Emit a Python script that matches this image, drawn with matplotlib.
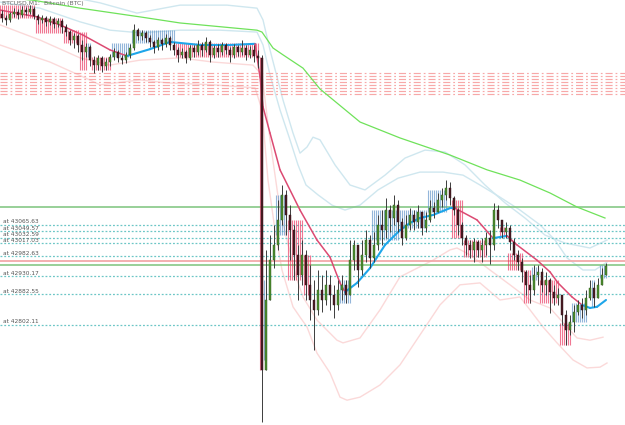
import matplotlib
matplotlib.use("Agg")
import matplotlib.pyplot as plt
import numpy as np

# M1 bars (price), open of each bar = close of the bar before
first_open = 43622
closes = [
    43611, 43606, 43622, 43627, 43619, 43632, 43627, 43635, 43616, 43606,
    43611, 43601, 43608, 43595, 43603, 43587, 43574, 43553, 43564, 43540,
    43522, 43535, 43500, 43487, 43506, 43485, 43495, 43508, 43522, 43506,
    43500, 43514, 43532, 43579, 43564, 43572, 43558, 43548, 43535, 43553,
    43543, 43558, 43540, 43527, 43514, 43522, 43506, 43532, 43522, 43540,
    43527, 43548, 43514, 43532, 43522, 43540, 43527, 43514, 43535, 43522,
    43532, 43514, 43527, 43511, 43506, 42684, 42868, 42973, 43013, 43079,
    43145, 43092, 43052, 42987, 42934, 42987, 42908, 42868, 42842, 42894,
    42868, 42908, 42881, 42855, 42894, 42908, 42881, 42973, 43013, 42947,
    42987, 43026, 42979, 43013, 43066, 43052, 43105, 43084, 43118, 43074,
    43031, 43066, 43092, 43074, 43100, 43058, 43079, 43110, 43100, 43132,
    43145, 43163, 43137, 43105, 43066, 43031, 43013, 43000, 43021, 43000,
    43013, 43031, 43013, 43105, 43079, 43047, 43058, 43021, 42987, 42968,
    42942, 42908, 42894, 42934, 42942, 42908, 42921, 42889, 42873, 42881,
    42828, 42789, 42810, 42836, 42855, 42842, 42873, 42900, 42873, 42908,
    42934, 42958]
highs = [
    43632, 43619, 43627, 43637, 43635, 43643, 43640, 43645, 43640, 43622,
    43619, 43616, 43616, 43614, 43611, 43608, 43595, 43579, 43572, 43569,
    43553, 43545, 43540, 43511, 43514, 43511, 43506, 43516, 43532, 43527,
    43514, 43522, 43543, 43595, 43585, 43579, 43577, 43566, 43553, 43561,
    43558, 43569, 43564, 43548, 43535, 43532, 43527, 43540, 43540, 43553,
    43548, 43561, 43553, 43540, 43543, 43548, 43545, 43535, 43543, 43540,
    43553, 43540, 43537, 43540, 43527, 43514, 43000, 43039, 43066, 43132,
    43171, 43158, 43118, 43066, 43013, 43026, 43000, 42960, 42921, 42947,
    42934, 42947, 42934, 42908, 42921, 42934, 42921, 43026, 43026, 43000,
    43026, 43052, 43039, 43047, 43092, 43105, 43137, 43118, 43145, 43132,
    43084, 43092, 43110, 43105, 43118, 43092, 43100, 43132, 43126, 43150,
    43163, 43184, 43179, 43142, 43110, 43074, 43039, 43026, 43031, 43026,
    43031, 43047, 43052, 43124, 43118, 43079, 43074, 43066, 43031, 43000,
    42979, 42947, 42934, 42960, 42960, 42952, 42942, 42926, 42908, 42900,
    42881, 42842, 42828, 42855, 42868, 42873, 42894, 42921, 42915, 42926,
    42952, 42965]
lows = [
    43601, 43593, 43601, 43614, 43608, 43614, 43619, 43622, 43608, 43595,
    43598, 43590, 43593, 43585, 43587, 43572, 43564, 43540, 43532, 43522,
    43500, 43508, 43485, 43466, 43474, 43469, 43474, 43485, 43500, 43495,
    43490, 43493, 43506, 43527, 43553, 43553, 43548, 43535, 43519, 43527,
    43527, 43535, 43527, 43514, 43495, 43506, 43493, 43500, 43508, 43514,
    43511, 43522, 43495, 43506, 43508, 43514, 43516, 43495, 43506, 43511,
    43514, 43500, 43506, 43495, 43479, 42547, 42710, 42868, 42952, 43000,
    43066, 43039, 42973, 42921, 42868, 42908, 42868, 42815, 42736, 42828,
    42836, 42855, 42842, 42821, 42842, 42868, 42860, 42881, 42947, 42902,
    42934, 42968, 42952, 42968, 43000, 43013, 43031, 43047, 43066, 43047,
    43013, 43026, 43052, 43052, 43058, 43039, 43047, 43074, 43084, 43100,
    43113, 43132, 43118, 43092, 43039, 43013, 42987, 42979, 42968, 42981,
    42968, 42987, 42963, 43000, 43058, 43031, 43031, 43000, 42973, 42947,
    42915, 42881, 42860, 42881, 42908, 42889, 42881, 42834, 42855, 42855,
    42802, 42749, 42776, 42784, 42828, 42821, 42828, 42868, 42850, 42886,
    42915, 42934]

# trend boxes: first bar, last bar, top, bottom, up(1)/down(0)
hl_from = [0, 9, 16, 20, 22, 23, 28, 33, 44, 65, 66, 69, 72, 76, 85, 93, 100, 107,
           113, 116, 125, 127, 131, 133, 135, 140, 143, 148, 150]
hl_to = [8, 15, 19, 21, 22, 27, 32, 43, 64, 65, 66, 71, 75, 77, 87, 99, 106, 111,
         115, 121, 126, 130, 132, 134, 139, 142, 146, 148, 151]
hl_top = [43645, 43611, 43579, 43574, 43545, 43508, 43545, 43579, 43545, 43508,
          42921, 43145, 43079, 42987, 42921, 43105, 43105, 43158, 43132, 43026,
          43060, 42992, 42947, 42955, 42921, 42808, 42860, 42921, 42960]
hl_bot = [43611, 43572, 43545, 43474, 43508, 43474, 43508, 43545, 43508, 42684,
          42710, 43039, 42921, 42881, 42860, 43026, 43058, 43100, 43031, 42981,
          43034, 42947, 42860, 42921, 42860, 42749, 42810, 42850, 42926]
hl_up = [0, 0, 0, 0, 1, 0, 1, 1, 0, 0, 1, 1, 0, 0, 1, 1, 1, 1, 0, 0, 0, 0, 0, 1, 0, 0, 1, 1, 1]

# trend moving average (x in bars)
ma_x = [-0.5, 8.75, 14.5, 20.25, 27, 31.25, 37, 42, 49.5, 57, 63.25, 64.5, 65.25, 67,
        69.5, 74.5, 78.75, 82, 84.5, 85.75, 88.75, 92, 95.75, 99.5, 102, 104.5, 107.75,
        112, 113.25, 118.75, 122.75, 126.25, 128.75, 133.75, 137, 139, 142.5, 145, 147,
        148.75, 151]
ma_p = [43632, 43614, 43593, 43566, 43527, 43511, 43529, 43548, 43540, 43540, 43543,
        43456, 43377, 43308, 43211, 43105, 43026, 42981, 42913, 42889, 42913, 42952,
        43013, 43052, 43071, 43084, 43092, 43110, 43110, 43079, 43031, 43037, 43013,
        42973, 42942, 42913, 42876, 42855, 42847, 42850, 42868]
ma_up = [0, 0, 0, 0, 0, 1, 1, 1, 1, 1, 0, 0, 0, 0, 0, 0, 0, 0, 0, 1, 1, 1, 1, 1, 1, 1,
         1, 1, 0, 0, 1, 0, 0, 0, 0, 0, 0, 1, 1, 1]

# slow moving average
slow_x = [-0.5, 7.75, 19.5, 34.5, 44.5, 63.75, 65, 67.75, 70.25, 75.25, 79.5, 89.5,
          99.5, 112, 121.25, 129.5, 137, 143.75, 150.75]
slow_p = [43666, 43658, 43637, 43614, 43598, 43579, 43574, 43532, 43514, 43479, 43424,
          43337, 43295, 43250, 43211, 43184, 43150, 43113, 43084]

# channel bands
up_out_x = [14.5, 24.5, 33.75, 44.5, 56.25, 63.75, 65.25, 67, 70.25, 72.75, 74.5, 76.25,
            77.75, 79.5, 83.25, 87, 90.75, 95.75, 100.75, 105.75, 110.75, 115.75, 120.75,
            125.75, 130.75, 135.75, 140.75, 147, 151.25]
up_out_p = [43672, 43651, 43624, 43645, 43645, 43637, 43606, 43527, 43395, 43308, 43255,
            43271, 43297, 43290, 43224, 43171, 43158, 43197, 43242, 43263, 43258, 43224,
            43171, 43124, 43084, 43039, 43018, 43005, 43026]
up_in_x = [-0.5, 9.5, 19.5, 27, 34.5, 44.5, 54.5, 63.75, 65.25, 67, 69.5, 72, 74, 76, 79,
           82.5, 85.75, 89.5, 94, 99, 104.5, 110.25, 115.25, 119.5, 124.5, 129.5, 134.5,
           138.25, 141.25, 145.25, 148.25, 151.25]
up_in_p = [43653, 43637, 43601, 43579, 43572, 43579, 43579, 43574, 43540, 43461, 43369,
           43290, 43224, 43171, 43145, 43118, 43105, 43118, 43158, 43189, 43205, 43205,
           43197, 43171, 43139, 43105, 43066, 43026, 42979, 42947, 42947, 42968]
lo_in_x = [-0.5, 9.5, 19.5, 27, 34.5, 44.5, 52.75, 62.75, 65, 67, 69.5, 71.25, 73.75,
           75.25, 78.75, 83.75, 85.25, 89.5, 94.5, 99.5, 107.75, 112, 113.75, 117, 122,
           127, 132, 137, 141.25, 143.75, 147, 150.25]
lo_in_p = [43593, 43553, 43506, 43487, 43500, 43506, 43495, 43487, 43461, 43290, 43105,
           43026, 42921, 42876, 42815, 42762, 42755, 42768, 42842, 42929, 42973, 43000,
           43005, 42987, 42947, 42908, 42868, 42847, 42797, 42768, 42762, 42770]
lo_out_x = [-0.5, 12, 20.25, 24.5, 34.5, 41.25, 52.75, 63.25, 65, 66.5, 68.25, 70, 72.75,
            74.5, 76.25, 78.75, 82, 84.5, 86.25, 89.5, 94.5, 99.5, 104.5, 109.5, 114.5,
            119.5, 124.5, 129.5, 132, 135.25, 138.75, 142.75, 146.25, 149.5, 151.25]
lo_out_p = [43540, 43495, 43456, 43435, 43448, 43440, 43435, 43427, 43369, 43184, 43052,
            42947, 42850, 42823, 42797, 42728, 42676, 42612, 42604, 42612, 42644, 42697,
            42776, 42855, 42908, 42913, 42868, 42876, 42842, 42797, 42755, 42710, 42689,
            42691, 42702]

# horizontal levels
zone_levels = [43466, 43458, 43450, 43442, 43435, 43427, 43419, 43411]
order_levels = [43065.63, 43049.57, 43032.59, 43017.03, 42982.63, 42930.17, 42882.55, 42802.11]
green_levels = [43113, 42960]
pink_levels = [42970]

fig = plt.figure(figsize=(6.25, 4.25), dpi=100)
ax = fig.add_axes([0, 0, 1, 1])
ax.set_xlim(-0.5, 155.75)
ax.set_ylim(42538.6, 43658.5)
ax.axis("off")

# bands and slow MA
ax.plot(up_out_x, up_out_p, color="#cfe7ef", lw=1.0, zorder=1)
ax.plot(up_in_x, up_in_p, color="#cfe7ef", lw=1.0, zorder=1)
ax.plot(lo_in_x, lo_in_p, color="#fbd9d9", lw=1.0, zorder=1)
ax.plot(lo_out_x, lo_out_p, color="#fbd9d9", lw=1.0, zorder=1)
ax.plot(slow_x, slow_p, color="#6fe25a", lw=0.9, zorder=1.2)

# levels
for lv in zone_levels:
    ax.axhline(lv, color="#f7a8a8", lw=0.85, ls=(0, (6, 2.5, 1.5, 2.5)), zorder=1.1)
for lv in order_levels:
    ax.axhline(lv, color="#6cc6c6", lw=0.9, ls=(0, (1.5, 1.5)), zorder=1.1)
    ax.text(0.2, lv + 1.5, f"at {lv:.2f}", fontsize=4.2, color="#555555",
            ha="left", va="bottom", zorder=5)
for lv in green_levels:
    ax.axhline(lv, color="#7cc47c", lw=1.1, zorder=1.1)
for lv in pink_levels:
    ax.axhline(lv, color="#f2aaaa", lw=1.3, zorder=1.1)

# trend boxes drawn as thin stripes
for s, e, t, b, u in zip(hl_from, hl_to, hl_top, hl_bot, hl_up):
    xs = np.arange(s - 0.4, e + 0.5, 0.5)
    col = "#5b8fc7" if u else "#e8305a"
    ax.vlines(xs, b, t, color=col, lw=0.8, alpha=0.65, zorder=2)

# trend MA coloured by direction
for k in range(len(ma_x) - 1):
    up = ma_up[k]
    ax.plot(ma_x[k:k + 2], ma_p[k:k + 2], color="#1ea6ea" if up else "#dc4a72",
            lw=1.5 if up else 1.1, solid_capstyle="round", zorder=2.5)

# candles
opens = [first_open] + closes[:-1]
xb = np.arange(len(closes))
o = np.array(opens, float)
c = np.array(closes, float)
h = np.maximum.reduce([np.array(highs, float), o, c])
l = np.minimum.reduce([np.array(lows, float), o, c])
ax.vlines(xb, l, h, color="#3c3c3c", lw=0.7, zorder=3)
bull = c >= o
body_h = np.maximum(np.abs(c - o), 2.0)
body_b = np.minimum(o, c)
ax.bar(xb[bull], body_h[bull], bottom=body_b[bull], width=0.5, color="#4c8c2e",
       edgecolor="#2f5a1c", lw=0.3, zorder=3.2)
ax.bar(xb[~bull], body_h[~bull], bottom=body_b[~bull], width=0.5, color="#4a1c24",
       edgecolor="#2a1014", lw=0.3, zorder=3.2)

ax.text(0.003, 0.997, "BTCUSD,M1:  Bitcoin (BTC)", transform=ax.transAxes,
        fontsize=4.4, color="#666666", ha="left", va="top", zorder=6)

fig.savefig("out.png", dpi=100)
